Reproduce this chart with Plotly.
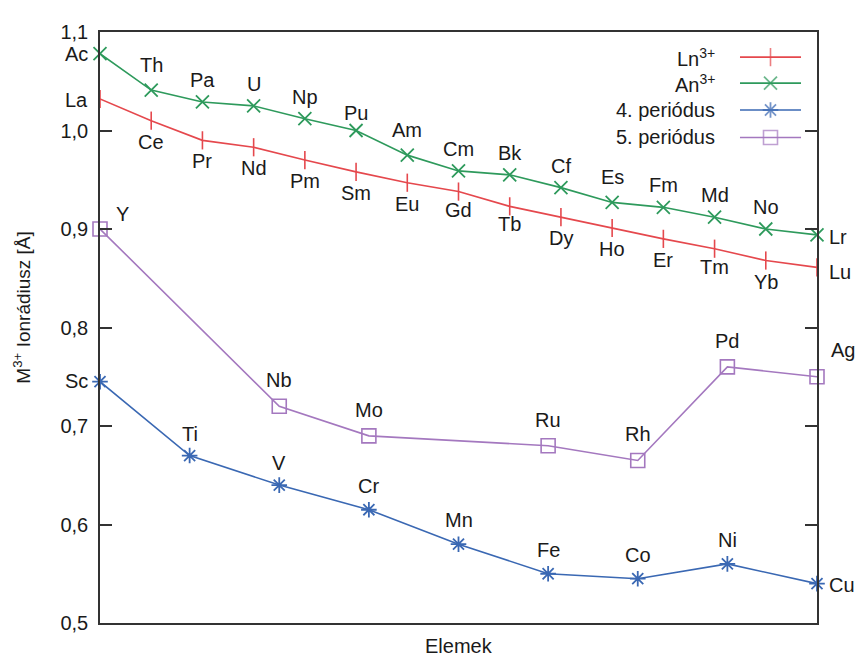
import plotly.graph_objects as go

# Trivalent ionic radii (Å)
ln_elements = ["La", "Ce", "Pr", "Nd", "Pm", "Sm", "Eu", "Gd", "Tb", "Dy", "Ho", "Er", "Tm", "Yb", "Lu"]
ln_radius = [1.032, 1.010, 0.990, 0.983, 0.970, 0.958, 0.947, 0.938, 0.923, 0.912, 0.901, 0.890, 0.880, 0.868, 0.861]

an_elements = ["Ac", "Th", "Pa", "U", "Np", "Pu", "Am", "Cm", "Bk", "Cf", "Es", "Fm", "Md", "No", "Lr"]
an_radius = [1.078, 1.041, 1.029, 1.025, 1.012, 1.000, 0.975, 0.959, 0.955, 0.942, 0.927, 0.922, 0.912, 0.900, 0.894]

p4_elements = ["Sc", "Ti", "V", "Cr", "Mn", "Fe", "Co", "Ni", "Cu"]
p4_radius = [0.745, 0.670, 0.640, 0.615, 0.580, 0.550, 0.545, 0.560, 0.540]

# 5th period: group positions (Zr and Tc have no entry)
p5_elements = ["Y", "Nb", "Mo", "Ru", "Rh", "Pd", "Ag"]
p5_group_pos = [0, 2, 3, 5, 6, 7, 8]
p5_radius = [0.900, 0.720, 0.690, 0.680, 0.665, 0.760, 0.750]

y_ticks = [0.5, 0.6, 0.7, 0.8, 0.9, 1.0, 1.1]
y_tick_text = ["0,5", "0,6", "0,7", "0,8", "0,9", "1,0", "1,1"]

# shared x scale: 14 f-block steps and 8 d-block steps over the same width
X_SPAN = 56
ln_x = [i * X_SPAN / (len(ln_elements) - 1) for i in range(len(ln_elements))]
an_x = ln_x
p4_x = [i * X_SPAN / 8 for i in range(len(p4_elements))]
p5_x = [g * X_SPAN / 8 for g in p5_group_pos]

RED = "#e5484d"
GREEN = "#2e9a5c"
BLUE = "#3a68b3"
PURPLE = "#a478bf"
FONT = "Liberation Sans, Arial, sans-serif"
TXT = "#1a1a1a"
FS = 20

series = [
    dict(name="Ln<sup>3+</sup>", x=ln_x, y=ln_radius, labels=ln_elements, color=RED,
         symbol="line-ns", size=13, lw=1.6),
    dict(name="An<sup>3+</sup>", x=an_x, y=an_radius, labels=an_elements, color=GREEN,
         symbol="x-thin", size=13, lw=1.8),
    dict(name="4. periódus", x=p4_x, y=p4_radius, labels=p4_elements, color=BLUE,
         symbol="asterisk", size=13, lw=1.8),
    dict(name="5. periódus", x=p5_x, y=p5_radius, labels=p5_elements, color=PURPLE,
         symbol="square-open", size=14, lw=1.6),
]

fig = go.Figure()
for s in series:
    fig.add_trace(go.Scatter(
        x=s["x"], y=s["y"], mode="lines+markers", showlegend=False,
        line=dict(color=s["color"], width=1.6),
        marker=dict(symbol=s["symbol"], size=s["size"], color=s["color"],
                    line=dict(color=s["color"], width=s["lw"])),
        cliponaxis=False,
    ))

# element labels: (xanchor, dx, dy) in pixels, dy positive = downward
label_pos = {}
for el in ln_elements:
    label_pos[el] = ("center", 0, 21)
for el in an_elements:
    label_pos[el] = ("center", 0, -22)
for el in p4_elements:
    label_pos[el] = ("center", 0, -24)
for el in p5_elements:
    label_pos[el] = ("center", 0, -26)
label_pos.update({
    "La": ("right", -10, 1), "Lu": ("left", 10, 5),
    "Ac": ("right", -10, 0), "Lr": ("left", 10, 2),
    "Sc": ("right", -10, -1), "Cu": ("left", 10, 1),
    "Y": ("left", 14, -15), "Ag": ("left", 12, -27),
    "Th": ("center", 0, -25), "Pu": ("center", 0, -18), "Am": ("center", 0, -25),
    "Es": ("center", 0, -25), "Gd": ("center", 0, 18), "Tb": ("center", 0, 18),
    "Tm": ("center", 0, 18), "Ti": ("center", 0, -22), "V": ("center", 0, -22),
})

annotations = []
for s in series:
    for xv, yv, el in zip(s["x"], s["y"], s["labels"]):
        anchor, dx, dy = label_pos[el]
        annotations.append(dict(
            x=xv, y=yv, xref="x", yref="y", text=el, showarrow=False,
            xanchor=anchor, yanchor="middle", xshift=dx, yshift=-dy,
            font=dict(family=FONT, size=FS, color=TXT),
        ))

# key in the upper right corner: label text, then a line sample with its marker
key_text_x = 0.8605
key_line = (0.8926, 0.9777)
key_rows = [0.9575, 0.9135, 0.868, 0.8215]
for s, ky in zip(series, key_rows):
    annotations.append(dict(
        x=key_text_x, y=ky, xref="paper", yref="paper", text=s["name"],
        showarrow=False, xanchor="right", yanchor="middle",
        font=dict(family=FONT, size=FS, color=TXT),
    ))
    fig.add_trace(go.Scatter(
        x=[key_line[0], sum(key_line) / 2, key_line[1]], y=[ky, ky, ky],
        xaxis="x2", yaxis="y2", mode="lines+markers", showlegend=False,
        line=dict(color=s["color"], width=1.6),
        marker=dict(symbol=s["symbol"], size=[0, s["size"], 0], color=s["color"],
                    line=dict(color=s["color"], width=s["lw"])),
        cliponaxis=False, hoverinfo="skip",
    ))

# axis titles
annotations.append(dict(
    x=0.5, y=-35 / 591, xref="paper", yref="paper", text="Elemek", showarrow=False,
    xanchor="center", yanchor="bottom", borderpad=0,
    font=dict(family=FONT, size=FS, color=TXT),
))
annotations.append(dict(
    x=-0.11, y=0.5, xref="paper", yref="paper", text="M<sup>3+</sup> Ionrádiusz [Å]",
    showarrow=False, textangle=-90, xanchor="center", yanchor="middle", yshift=20,
    font=dict(family=FONT, size=19, color=TXT),
))

fig.update_layout(
    width=857, height=658,
    margin=dict(l=100, r=40, t=32, b=35),
    paper_bgcolor="white", plot_bgcolor="white",
    showlegend=False,
    annotations=annotations,
    xaxis=dict(range=[0, X_SPAN], showgrid=False, zeroline=False, showticklabels=False,
               ticks="", showline=True, linecolor="#333333", linewidth=1.5, mirror=True),
    yaxis=dict(range=[0.5, 1.1], tickvals=y_ticks, ticktext=y_tick_text,
               showgrid=False, zeroline=False, ticks="inside", ticklen=12, tickwidth=1.5,
               tickcolor="#333333", showline=True, linecolor="#333333", linewidth=1.5,
               mirror="ticks", ticklabelstandoff=6,
               tickfont=dict(family=FONT, size=FS, color=TXT)),
    xaxis2=dict(range=[0, 1], overlaying="x", visible=False, fixedrange=True),
    yaxis2=dict(range=[0, 1], overlaying="y", visible=False, fixedrange=True),
)

fig.write_html("out.html")
